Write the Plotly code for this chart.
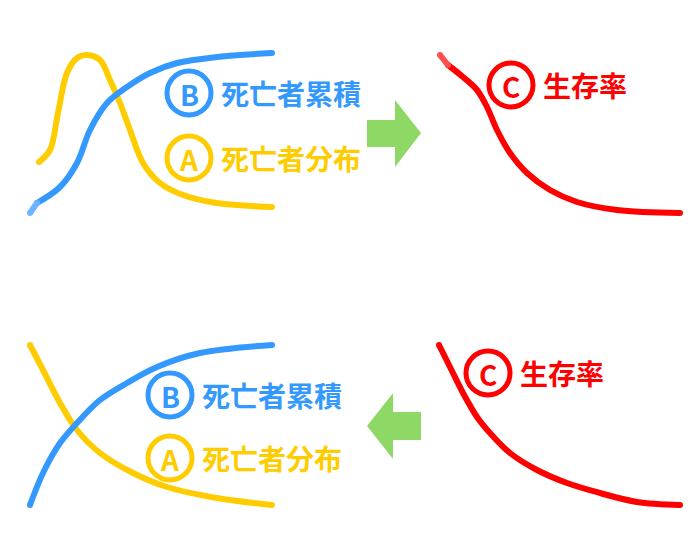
import plotly.graph_objects as go

# ---- data (pixel-space coordinates) ----
top_a_x = [39, 50, 58, 67, 77, 87, 100, 110, 120, 130, 143, 160, 183, 217, 272]
top_a_y = [162, 150, 113, 73, 58, 55, 60, 80, 103, 130, 163, 183, 195, 203, 207]

top_b_x = [37, 60, 77, 90, 107, 127, 150, 177, 217, 272]
top_b_y = [203, 187, 163, 130, 103, 87, 73, 63, 57, 53]
top_b_tip_x = [30, 37]
top_b_tip_y = [213, 203]

top_c_x = [448, 463, 477, 487, 497, 510, 527, 550, 577, 617, 680]
top_c_y = [65, 77, 90, 107, 130, 153, 173, 190, 202, 210, 213]
top_c_tip_x = [440, 448]
top_c_tip_y = [55, 65]

bot_a_x = [30, 43, 60, 77, 100, 133, 167, 217, 272]
bot_a_y = [345, 370, 403, 430, 453, 473, 487, 498, 505]

bot_b_x = [30, 43, 60, 77, 100, 127, 157, 200, 272]
bot_b_y = [505, 473, 443, 423, 400, 383, 367, 353, 345]

bot_c_x = [439, 450, 463, 477, 490, 510, 537, 567, 600, 637, 680]
bot_c_y = [345, 367, 393, 417, 433, 453, 470, 483, 493, 502, 505]

arrow_right_x = [367, 395, 395, 421, 395, 395, 367, 367]
arrow_right_y = [120, 120, 100, 133, 167, 147, 147, 120]
arrow_left_x = [421, 393, 393, 367, 393, 393, 421, 421]
arrow_left_y = [412, 412, 393, 426, 459, 440, 440, 412]

label_letters = ["B", "A", "C", "B", "A", "C"]
label_x = [189, 189, 511, 170, 170, 488]
label_y = [93, 158, 85, 395, 458, 373]
label_texts = ["死亡者累積", "死亡者分布", "生存率", "死亡者累積", "死亡者分布", "生存率"]

BLUE = "#3399ff"
BLUE_L = "#6cb4ff"
YELLOW = "#ffcc00"
RED = "#ff0000"
RED_L = "#ff5050"
GREEN = "#8ed966"
label_colors = [BLUE, YELLOW, RED, BLUE, YELLOW, RED]

fig = go.Figure()

def curve(x, y, color):
    fig.add_trace(go.Scatter(x=x, y=y, mode="lines",
                             line=dict(color=color, width=6, shape="spline", smoothing=1.0),
                             hoverinfo="skip", showlegend=False))
    fig.add_trace(go.Scatter(x=[x[0], x[-1]], y=[y[0], y[-1]], mode="markers",
                             marker=dict(color=color, size=6, line=dict(width=0)),
                             hoverinfo="skip", showlegend=False))

curve(top_a_x, top_a_y, YELLOW)
curve(top_b_x, top_b_y, BLUE)
curve(top_b_tip_x, top_b_tip_y, BLUE_L)
curve(top_c_x, top_c_y, RED)
curve(top_c_tip_x, top_c_tip_y, RED_L)
curve(bot_a_x, bot_a_y, YELLOW)
curve(bot_b_x, bot_b_y, BLUE)
curve(bot_c_x, bot_c_y, RED)

for ax_, ay_ in [(arrow_right_x, arrow_right_y), (arrow_left_x, arrow_left_y)]:
    fig.add_trace(go.Scatter(x=ax_, y=ay_, mode="lines", fill="toself",
                             fillcolor=GREEN, line=dict(color=GREEN, width=0),
                             hoverinfo="skip", showlegend=False))

fig.add_trace(go.Scatter(
    x=label_x, y=label_y, mode="markers",
    marker=dict(symbol="circle-open", size=44, color=label_colors,
                line=dict(width=5, color=label_colors)),
    hoverinfo="skip", showlegend=False))

for lx, ly, letter, t, c in zip(label_x, label_y, label_letters, label_texts, label_colors):
    fig.add_annotation(x=lx, y=ly + 1, text="<b>" + letter + "</b>", showarrow=False,
                       xanchor="center", yanchor="middle", xref="x", yref="y",
                       font=dict(family="Noto Sans CJK JP", size=28, color=c))
    fig.add_annotation(x=lx + 30, y=ly, text="<b>" + t + "</b>", showarrow=False,
                       xanchor="left", yanchor="middle", xref="x", yref="y",
                       font=dict(family="Noto Sans CJK JP", size=28, color=c))

# the page adds an 8px body margin, so the ranges are offset to keep pixel alignment
fig.update_layout(
    width=698, height=550, autosize=False,
    margin=dict(l=0, r=0, t=0, b=0),
    paper_bgcolor="white", plot_bgcolor="white",
    xaxis=dict(range=[8, 706], visible=False, fixedrange=True),
    yaxis=dict(range=[558, 8], visible=False, fixedrange=True),
)

fig.write_html("out.html")
